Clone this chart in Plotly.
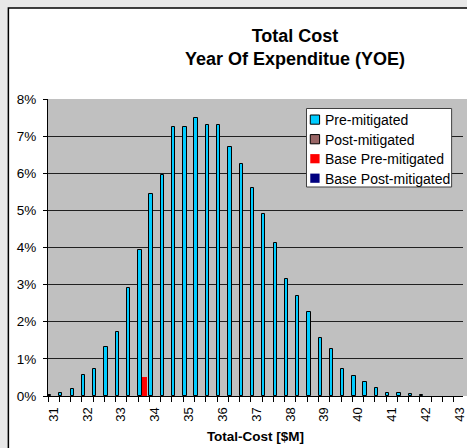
import plotly.graph_objects as go

# Category values (Total-Cost, $M) — one category every 1/3 $M
cost_categories = [31.00, 31.33, 31.67, 32.00, 32.33, 32.67, 33.00, 33.33, 33.67, 34.00,
                   34.33, 34.67, 35.00, 35.33, 35.67, 36.00, 36.33, 36.67, 37.00, 37.33,
                   37.67, 38.00, 38.33, 38.67, 39.00, 39.33, 39.67, 40.00, 40.33, 40.67,
                   41.00, 41.33, 41.67, 42.00]

# Pre-mitigated probability (fraction)
pre_mitigated = [0.0003, 0.0007, 0.0018, 0.0056, 0.0073, 0.0133, 0.0173, 0.0292, 0.0392, 0.0544,
                 0.0596, 0.0725, 0.0725, 0.0750, 0.0731, 0.0731, 0.0672, 0.0626, 0.0560, 0.0489,
                 0.0413, 0.0316, 0.0269, 0.0227, 0.0155, 0.0127, 0.0074, 0.0054, 0.0039, 0.0021,
                 0.0008, 0.0009, 0.0005, 0.0003]

post_mitigated_x = [31.00]
post_mitigated = [None]

base_pre_x = [33.67]
base_pre = [0.0051]

base_post_x = [31.00]
base_post = [None]

series_names = ["Pre-mitigated", "Post-mitigated", "Base Pre-mitigated", "Base Post-mitigated"]
series_colors = ["#00CCFF", "#996666", "#FF0000", "#000080"]
series_outlined = [True, True, False, False]

tick_values = [31, 32, 33, 34, 35, 36, 37, 38, 39, 40, 41, 42, 43]
tick_labels = [str(v) for v in tick_values]

FONT = "Liberation Sans, Arial, sans-serif"
cat_w = 1 / 3.0

fig = go.Figure()
fig.add_trace(go.Bar(
    x=cost_categories, y=pre_mitigated, name=series_names[0],
    marker=dict(color=series_colors[0], line=dict(color="#000000", width=1)),
    width=0.097, offset=-cat_w / 2,
))
fig.add_trace(go.Bar(
    x=post_mitigated_x, y=post_mitigated, name=series_names[1],
    marker=dict(color=series_colors[1], line=dict(color="#000000", width=1)),
    width=0.097, offset=-cat_w / 2 + 0.097,
))
fig.add_trace(go.Bar(
    x=base_pre_x, y=base_pre, name=series_names[2],
    marker=dict(color=series_colors[2], line=dict(width=0)),
    width=0.146, offset=-cat_w / 2 + 0.097,
))
fig.add_trace(go.Bar(
    x=base_post_x, y=base_post, name=series_names[3],
    marker=dict(color=series_colors[3], line=dict(width=0)),
    width=0.097, offset=-cat_w / 2 + 0.25,
))

W, H = 467, 448
L, R, T, B = 48, 0, 99, 52
pw = W - L - R
ph = H - T - B

def px_x(p):
    return (p - L) / pw

def px_y(p):
    return (H - B - p) / ph

shapes = [
    # white chart area with black border (extends past right/bottom edges)
    dict(type="rect", xref="paper", yref="paper",
         x0=px_x(8), x1=px_x(W + 20), y0=px_y(H + 20), y1=px_y(8),
         fillcolor="#FFFFFF", line=dict(color="#000000", width=1.5), layer="below"),
    # gray plot area
    dict(type="rect", xref="paper", yref="paper",
         x0=0, x1=1.02, y0=0, y1=1,
         fillcolor="#C0C0C0", line=dict(width=0), layer="below"),
    # legend box
    dict(type="rect", xref="paper", yref="paper",
         x0=px_x(309), x1=px_x(455.5), y0=px_y(187), y1=px_y(108.5),
         fillcolor="#FFFFFF", line=dict(color="#404040", width=1), layer="above"),
]

annotations = []
row_centers = [119.6, 139.2, 158.7, 178.2]
for name, col, outlined, yc in zip(series_names, series_colors, series_outlined, row_centers):
    shapes.append(dict(
        type="rect", xref="paper", yref="paper",
        x0=px_x(312.8), x1=px_x(322.2), y0=px_y(yc + 4.6), y1=px_y(yc - 4.6),
        fillcolor=col,
        line=dict(color="#000000", width=1) if outlined else dict(width=0),
        layer="above",
    ))
    annotations.append(dict(
        text=name, xref="paper", yref="paper",
        x=px_x(325.5), y=px_y(yc + 0.5), xanchor="left", yanchor="middle",
        showarrow=False, font=dict(family=FONT, size=14, color="#000000"),
    ))

fig.update_layout(
    width=W, height=H,
    margin=dict(l=L, r=R, t=T, b=B, pad=0),
    paper_bgcolor="#E8E8E8",
    plot_bgcolor="rgba(0,0,0,0)",
    barmode="overlay",
    bargap=0,
    showlegend=False,
    font=dict(family=FONT, color="#000000", size=13),
    title=dict(
        text="<b>Total Cost</b><br><b>Year Of Expenditue (YOE)</b>",
        font=dict(family=FONT, size=18, color="#000000"),
        x=295 / W, xanchor="center", xref="container",
        y=1 - 42 / H, yanchor="middle", yref="container",
    ),
    shapes=shapes,
    annotations=annotations,
    xaxis=dict(
        range=[31 - cat_w / 2, 31 - cat_w / 2 + pw / 34.14],
        tickmode="array", tickvals=tick_values, ticktext=tick_labels,
        tickangle=-90,
        ticks="outside", ticklen=5, tickcolor="rgba(0,0,0,0)",
        ticklabeloverflow="allow",
        tickfont=dict(family=FONT, size=13, color="#000000"),
        showgrid=False, zeroline=False,
        showline=True, linecolor="#000000", linewidth=1,
        minor=dict(tick0=31 - cat_w / 2, dtick=cat_w, ticks="outside",
                   ticklen=5, tickcolor="#000000", tickwidth=1, showgrid=False),
        title=dict(text="<b>Total-Cost [$M]</b>",
                   font=dict(family=FONT, size=13.5, color="#000000"),
                   standoff=10),
        fixedrange=True,
    ),
    yaxis=dict(
        range=[0, 0.08], tickmode="linear", tick0=0, dtick=0.01,
        tickformat=".0%",
        ticks="outside", ticklen=4, tickcolor="#000000",
        tickfont=dict(family=FONT, size=13.5, color="#000000"),
        showgrid=True, gridcolor="#202020", gridwidth=1,
        zeroline=False,
        showline=True, linecolor="#000000", linewidth=1,
        ticklabelstandoff=4,
        fixedrange=True,
    ),
)

fig.write_html(
    "out.html",
    config={"displayModeBar": False},
    post_script="document.body.style.margin='0';document.body.style.background='#E8E8E8';",
)
